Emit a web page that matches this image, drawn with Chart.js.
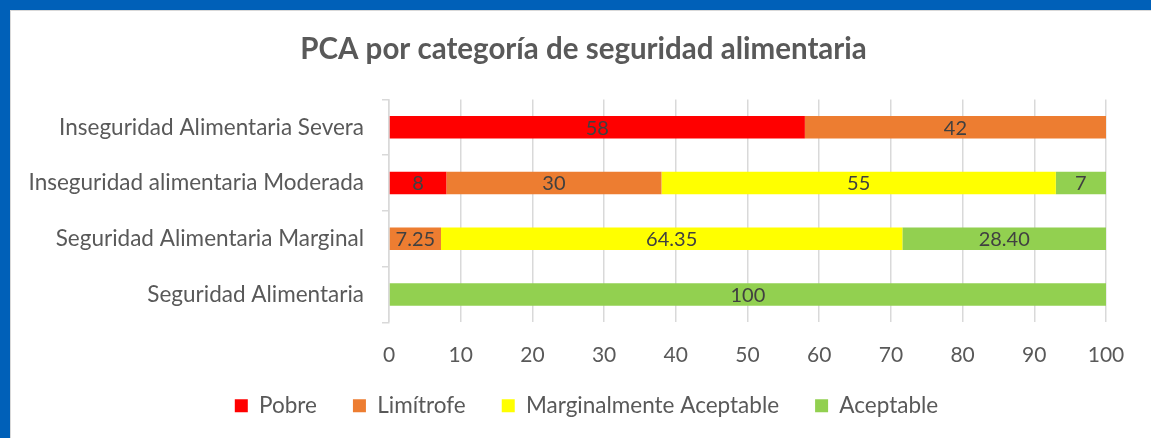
<!DOCTYPE html>
<html lang="es">
<head>
    <meta charset="UTF-8">
    <title>PCA por categoría de seguridad alimentaria</title>
    <script src="https://cdn.jsdelivr.net/npm/chart.js"></script>
    <style>
        html, body { margin: 0; padding: 0; background: #fff; overflow: hidden; }
        .frame {
            width: 1151px; height: 438px; box-sizing: border-box; overflow: hidden;
            border-left: 10px solid #0060b8; border-top: 10px solid #0060b8;
            background: #fff;
        }
        .inner {
            width: 1141px; height: 428px; box-sizing: border-box;
            border-left: 1px solid #d9d9d9; border-top: 1px solid #d9d9d9;
        }
        .chart-box { width: 1140px; height: 446px; }
    </style>
</head>
<body>
    <div class="frame"><div class="inner"><div class="chart-box">
        <canvas id="pcaChart"></canvas>
    </div></div></div>

    <script>
        const categories = [
            "Inseguridad Alimentaria Severa",
            "Inseguridad alimentaria Moderada",
            "Seguridad Alimentaria Marginal",
            "Seguridad Alimentaria"
        ];
        const pobre = [58, 8, 0, 0];
        const limitrofe = [42, 30, 7.25, 0];
        const marginal = [0, 55, 64.35, 0];
        const aceptable = [0, 7, 28.40, 100];
        const xTicks = [0, 10, 20, 30, 40, 50, 60, 70, 80, 90, 100];
        // the marginal row is shown with two decimals
        const decimals = [0, 0, 2, 0];

        const textGray = '#595959';
        const gridGray = '#d9d9d9';

        // draws the value in the middle of every segment
        const segmentLabels = {
            id: 'segmentLabels',
            afterDatasetsDraw(chart) {
                const ctx = chart.ctx;
                ctx.save();
                ctx.font = '20px Lato';
                ctx.fillStyle = '#404040';
                ctx.textAlign = 'center';
                ctx.textBaseline = 'middle';
                chart.data.datasets.forEach((ds, di) => {
                    chart.getDatasetMeta(di).data.forEach((bar, i) => {
                        const v = ds.data[i];
                        if (!v) return;
                        const cx = (bar.x + bar.base) / 2;
                        ctx.fillText(v.toFixed(decimals[i]), cx, bar.y + 1);
                    });
                });
                ctx.restore();
            }
        };

        // title and legend sit a bit right of the canvas centre in the original
        const nudge = {
            id: 'nudge',
            afterLayout(chart) {
                const lg = chart.legend, tt = chart.titleBlock;
                lg.left += 28; lg.right += 28;
                lg.top -= 30; lg.bottom -= 30;
                tt.left += 25; tt.right += 25;
            }
        };

        const barOpts = { categoryPercentage: 0.81, barPercentage: 0.5, borderWidth: 0 };

        new Chart(document.getElementById('pcaChart'), {
            type: 'bar',
            data: {
                labels: categories,
                datasets: [
                    { label: 'Pobre', data: pobre, backgroundColor: '#ff0000', ...barOpts },
                    { label: 'Limítrofe', data: limitrofe, backgroundColor: '#ed7d31', ...barOpts },
                    { label: 'Marginalmente Aceptable', data: marginal, backgroundColor: '#ffff00', ...barOpts },
                    { label: 'Aceptable', data: aceptable, backgroundColor: '#92d050', ...barOpts }
                ]
            },
            options: {
                indexAxis: 'y',
                responsive: true,
                maintainAspectRatio: false,
                animation: false,
                layout: { padding: { left: 0, right: 45, top: 0, bottom: 0 } },
                plugins: {
                    title: {
                        display: true,
                        text: 'PCA por categoría de seguridad alimentaria',
                        color: textGray,
                        font: { family: 'Lato', size: 29.5, weight: 'bold' },
                        padding: { top: 21, bottom: 32 }
                    },
                    legend: {
                        position: 'bottom',
                        labels: {
                            color: textGray,
                            font: { family: 'Lato', size: 22.5 },
                            boxWidth: 13,
                            boxHeight: 13,
                            padding: 36
                        }
                    },
                    tooltip: { enabled: false }
                },
                scales: {
                    x: {
                        stacked: true,
                        min: 0,
                        max: 100,
                        afterBuildTicks: axis => { axis.ticks = xTicks.map(v => ({ value: v })); },
                        grid: { color: gridGray, lineWidth: 1.5, drawTicks: false },
                        border: { display: false },
                        ticks: {
                            color: textGray,
                            font: { family: 'Lato', size: 21 },
                            padding: 20.5
                        }
                    },
                    y: {
                        stacked: true,
                        grid: { drawOnChartArea: false, color: gridGray, tickLength: 7, lineWidth: 1.5 },
                        border: { color: gridGray, width: 1.5 },
                        ticks: {
                            color: textGray,
                            font: { family: 'Lato', size: 22.5 },
                            padding: 18
                        },
                        afterFit: axis => { axis.width = 378; }
                    }
                }
            },
            plugins: [segmentLabels, nudge]
        });
    </script>
</body>
</html>
